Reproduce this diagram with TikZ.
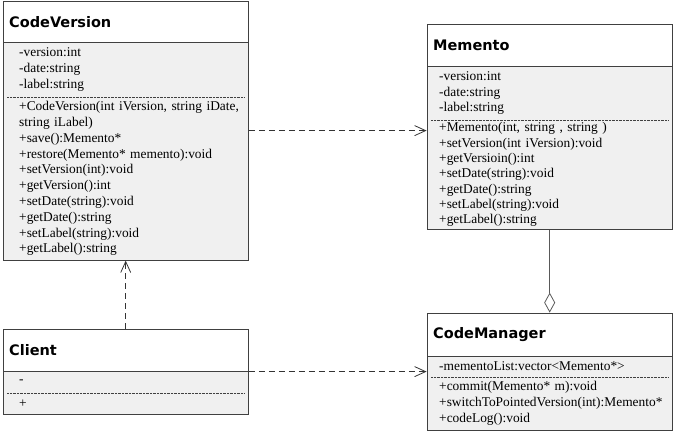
\documentclass[tikz,border=0pt]{standalone}
\usepackage{fontspec}
\setmainfont{Liberation Serif}
\newfontfamily\classfont{DejaVu Sans}
\usetikzlibrary{arrows.meta,positioning,fit}

\begin{document}
\begin{tikzpicture}[x=1pt,y=-1pt]
\colorlet{class edge}{black!75}
\colorlet{class area}{black!6}
\tikzset{
     classname/.style={fill=white, minimum width=245pt, inner sep=0pt, text width=233pt,
        align=left, font=\classfont\bfseries\fontsize{14.5}{16}\selectfont},
     members/.style={fill=class area, minimum width=245pt, inner ysep=2pt,
        inner xsep=0pt, text width=245pt-2*#1, align=left,
        font=\fontsize{13.4}{15.8}\selectfont},
     members/.default=12pt,
     frame/.style={draw=class edge, thick, inner sep=0pt},
     depends/.style={draw=black!80, thick, dash pattern=on 6pt off 4pt,
        -{Straight Barb[length=11pt,width=10pt]}},
     aggregate/.style={draw=black!65, thick, -{Diamond[open,length=20pt,width=11pt]}}}

\useasboundingbox (0,0) rectangle (674,432);

% CodeVersion
\node (cvname) [classname, minimum height=41pt, anchor=north west] at (3,1) {CodeVersion};
\node (cvattr) [members=16pt, minimum height=54pt, below=0pt of cvname]
  {-version:int\\-date:string\\-label:string};
\node (cvops) [members=16pt, minimum height=163pt, below=0pt of cvattr]
  {\mbox{+CodeVersion(int iVersion, string iDate,}\\string iLabel)\\+save():Memento*\\
   +restore(Memento* memento):void\\+setVersion(int):void\\+getVersion():int\\
   +setDate(string):void\\+getDate():string\\+setLabel(string):void\\+getLabel():string};
\node (cvbox) [frame, fit=(cvname)(cvops)] {};

% Memento
\node (mmname) [classname, minimum height=42pt, anchor=north west] at (427,24) {Memento};
\node (mmattr) [members, minimum height=53pt, below=0pt of mmname]
  {-version:int\\-date:string\\-label:string};
\node (mmops) [members, minimum height=109pt, below=0pt of mmattr, font=\fontsize{13.4}{15.3}\selectfont]
  {+Memento(int, string , string )\\+setVersion(int iVersion):void\\+getVersioin():int\\
   +setDate(string):void\\+getDate():string\\+setLabel(string):void\\+getLabel():string};
\node (mmbox) [frame, fit=(mmname)(mmops)] {};

% Client
\node (clname) [classname, minimum height=42pt, anchor=north west] at (3,329) {Client};
\node (clattr) [members=16pt, minimum height=21pt, below=0pt of clname] {-};
\node (clops) [members=16pt, minimum height=21pt, below=0pt of clattr] {+};
\node (clbox) [frame, fit=(clname)(clops)] {};

% CodeManager
\node (cmname) [classname, minimum height=43pt, anchor=north west] at (427,313) {CodeManager};
\node (cmattr) [members, minimum height=20pt, below=0pt of cmname] {-mementoList:vector<Memento*>};
\node (cmops) [members, minimum height=53pt, below=0pt of cmattr]
  {+commit(Memento* m):void\\+switchToPointedVersion(int):Memento*\\+codeLog():void};
\node (cmbox) [frame, fit=(cmname)(cmops)] {};

% The compartment lines
\foreach \cls in {cv,mm,cl,cm}{
  \draw [class edge, thick] (\cls name.south west) -- (\cls name.south east);
  \draw [class edge, densely dotted, shorten <=4pt, shorten >=4pt]
    (\cls attr.south west) -- (\cls attr.south east);
}

% The relations
\draw [depends] (cvbox.east) -- (mmbox.west |- cvbox.east);
\draw [depends] (clbox.north) -- (cvbox.south);
\draw [depends] (clbox.east) -- (cmbox.west |- clbox.east);
\draw [aggregate] (mmbox.south) -- (cmbox.north);
\end{tikzpicture}
\end{document}
